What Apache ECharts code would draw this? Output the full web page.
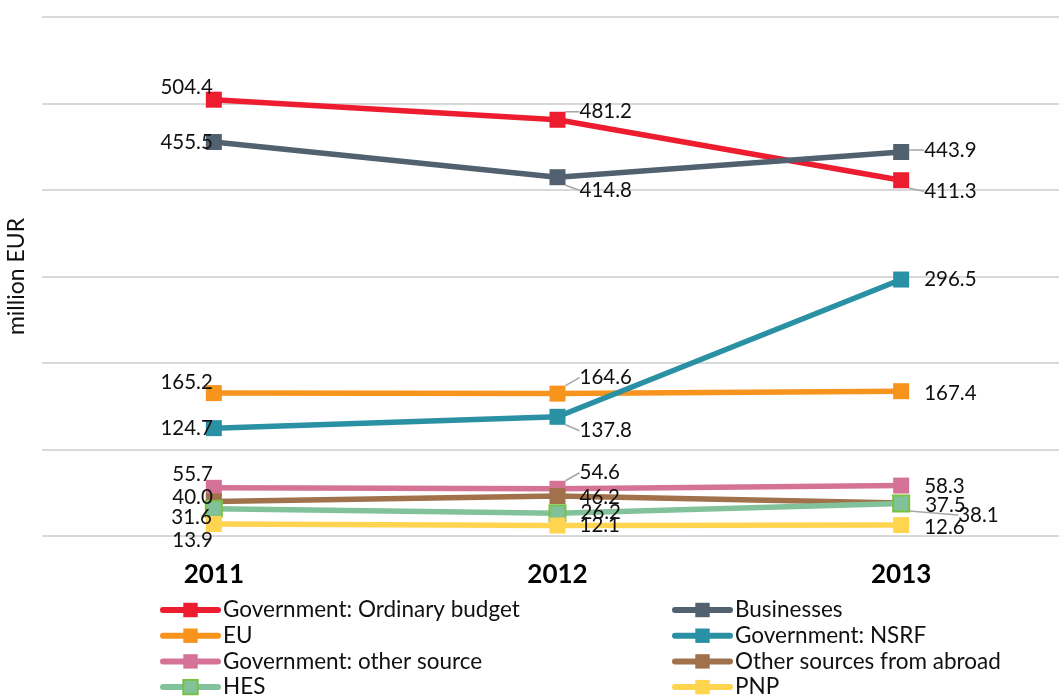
<!DOCTYPE html>
<html>
<head>
<meta charset="utf-8">
<title>R&D expenditure by source of funds</title>
<script src="https://cdn.jsdelivr.net/npm/echarts@6/dist/echarts.min.js"></script>
<style>
  html, body { margin: 0; padding: 0; background: #fff; }
  #chart { width: 1059px; height: 698px; }
</style>
</head>
<body>
<div id="chart"></div>
<script>
// data (million EUR)
var years = ['2011', '2012', '2013'];
var ordinaryBudget = [504.4, 481.2, 411.3];
var businesses = [455.5, 414.8, 443.9];
var eu = [165.2, 164.6, 167.4];
var nsrf = [124.7, 137.8, 296.5];
var govOther = [55.7, 54.6, 58.3];
var otherAbroad = [40.0, 46.2, 38.1];
var hes = [31.6, 26.2, 37.5];
var pnp = [13.9, 12.1, 12.6];

var FONT = 'Lato, "Noto Sans", sans-serif';

// label nudges per point [dx, dy], leader line flag
var seriesDefs = [
  { name: 'Government: Ordinary budget', data: ordinaryBudget, color: '#ED1C2E',
    offs: [[7, -12], [14, -8], [15, 11]], lead: [false, true, true] },
  { name: 'Businesses', data: businesses, color: '#52616F',
    offs: [[7, 0], [14, 13], [15, -2]], lead: [false, true, true] },
  { name: 'EU', data: eu, color: '#F7941D',
    offs: [[7, -11], [14, -16], [15, 2]], lead: [false, true, false] },
  { name: 'Government: NSRF', data: nsrf, color: '#2A90A4',
    offs: [[7, 0], [14, 14], [15, 0]], lead: [false, true, false] },
  { name: 'Government: other source', data: govOther, color: '#D57396',
    offs: [[7, -13], [14, -16], [15, 1]], lead: [false, true, false] },
  { name: 'Other sources from abroad', data: otherAbroad, color: '#A0714A',
    offs: [[7, -4], [14, 1], [49, 12]], lead: [false, false, true] },
  { name: 'HES', data: hes, color: '#82C29B', border: '#7AC143',
    offs: [[7, 9], [14, -1], [15, 2]], lead: [false, false, false] },
  { name: 'PNP', data: pnp, color: '#FFD54F',
    offs: [[7, 16], [14, 0], [15, 2]], lead: [false, false, false] }
];

var series = seriesDefs.map(function (d) {
  return {
    name: d.name,
    type: 'line',
    data: d.data.map(function (v, i) {
      return {
        value: v,
        label: { position: i === 0 ? 'left' : 'right' },
        labelLine: { show: d.lead[i] }
      };
    }),
    symbol: 'rect',
    symbolSize: 16,
    lineStyle: { color: d.color, width: 5.5 },
    itemStyle: { color: d.color, borderColor: d.border || d.color, borderWidth: d.border ? 2 : 0 },
    label: {
      show: true,
      distance: 0,
      color: '#111',
      fontSize: 20.5,
      fontFamily: FONT,
      formatter: function (p) { return p.value.toFixed(1); }
    },
    labelLine: { lineStyle: { color: '#a6a6a6', width: 1.5 } },
    labelLayout: function (p) {
      return { dx: d.offs[p.dataIndex][0], dy: d.offs[p.dataIndex][1] };
    },
    emphasis: { disabled: true },
    animation: false
  };
});

var legendBase = {
  orient: 'vertical', top: 598.5, height: 110, padding: 0, itemWidth: 55, itemHeight: 18, itemGap: 2.7,
  lineStyle: { width: 6, cap: 'round' },
  textStyle: { fontSize: 22.5, color: '#111', fontFamily: FONT }
};
var chart = echarts.init(document.getElementById('chart'));
chart.setOption({
  textStyle: { fontFamily: FONT },
  grid: { left: 42, right: -14, top: 17, bottom: 162, outerBoundsMode: 'none' },
  legend: [
    Object.assign({ left: 160, data: ['Government: Ordinary budget', 'EU', 'Government: other source', 'HES'] }, legendBase),
    Object.assign({ left: 672, data: ['Businesses', 'Government: NSRF', 'Other sources from abroad', 'PNP'] }, legendBase)
  ],
  xAxis: {
    type: 'category',
    data: years,
    axisLine: { show: false },
    axisTick: { show: false },
    axisLabel: { margin: 26, fontSize: 26, fontWeight: 'bold', color: '#000', fontFamily: FONT }
  },
  yAxis: {
    type: 'value',
    min: 0,
    max: 600,
    interval: 100,
    name: 'million EUR',
    nameLocation: 'middle',
    nameRotate: 90,
    nameGap: 14,
    nameTextStyle: { fontSize: 23, color: '#111', fontFamily: FONT },
    axisLabel: { show: false },
    axisLine: { show: false },
    axisTick: { show: false },
    splitLine: { lineStyle: { color: '#d9d9d9', width: 2 } }
  },
  series: series
});
</script>
</body>
</html>
